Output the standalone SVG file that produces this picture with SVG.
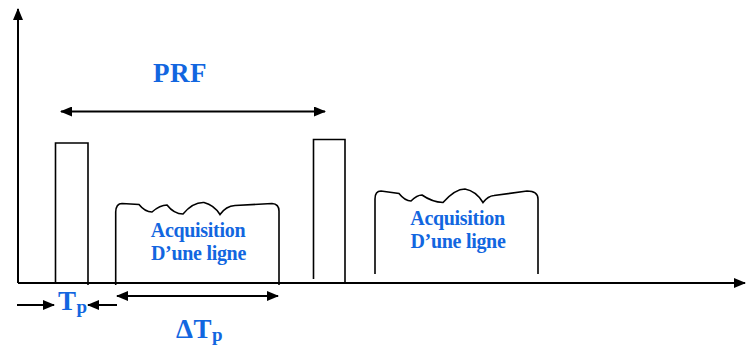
<svg xmlns="http://www.w3.org/2000/svg" width="747" height="349" viewBox="0 0 747 349">
<defs>
<style>
.ln{stroke:#000;stroke-width:1.6;fill:none}
.ax{stroke:#000;stroke-width:2;fill:none}
.ar{stroke:#000;stroke-width:2;fill:none}
.lbl{font-family:'Liberation Serif','DejaVu Serif',serif;font-weight:bold;fill:#1266e0}
.big{font-size:27px;letter-spacing:0.5px}
.acq{font-size:20px;letter-spacing:-0.3px}
.sub{font-size:19px}
</style>
<marker id="ah" viewBox="0 0 12 10" refX="11" refY="5" markerWidth="12" markerHeight="10" markerUnits="userSpaceOnUse" orient="auto-start-reverse">
<path d="M0,0 L12,5 L0,10 z" fill="#000"/>
</marker>
</defs>
<rect width="747" height="349" fill="#fff"/>
<g id="axes">
<line class="ax" x1="18" y1="283" x2="745" y2="283" marker-end="url(#ah)"/>
<line class="ax" x1="18" y1="283" x2="18" y2="9" marker-end="url(#ah)"/>
</g>
<g id="pulse1">
<path class="ln" d="M55.5,283 V143 H88 V285"/>
</g>
<g id="pulse2">
<path class="ln" d="M313.5,279 V139.5 H345 V283"/>
</g>
<g id="acq1">
<path class="ln" d="M115.7,285 V212 Q116,203.5 122,203.5 L139,204.5 Q145,212 152,212 Q160,205 167,205 Q174,214 183,214 Q193,202 204,202.5 Q214,205 220,214.5 Q226,206 235,205.5 L272,203.5 Q279,204 279,211 V285"/>
<text class="lbl acq" x="198" y="236.5" text-anchor="middle">Acquisition</text>
<text class="lbl acq" x="198.5" y="260" text-anchor="middle">D’une ligne</text>
</g>
<g id="acq2">
<path class="ln" d="M375,274 V199 Q375,191 381,191 L399,193.5 Q405,201 411,201 Q417,195 422,195 Q432,202 443,202.5 Q455,189 465,189 Q476,191 483,202.5 Q488,196 494,195.5 L527,191 Q538,191 538,199 V274"/>
<text class="lbl acq" x="457.5" y="225" text-anchor="middle">Acquisition</text>
<text class="lbl acq" x="458" y="248" text-anchor="middle">D’une ligne</text>
</g>
<g id="labels">
<text class="lbl big" x="180" y="82" text-anchor="middle">PRF</text>
<text class="lbl big" x="58" y="310">T<tspan class="sub" dy="3">p</tspan></text>
<text class="lbl big" x="176" y="338">ΔT<tspan class="sub" dy="3">p</tspan></text>
</g>
<g id="connectors">
<line class="ar" x1="61" y1="111.5" x2="325" y2="111.5" marker-start="url(#ah)" marker-end="url(#ah)"/>
<line class="ar" x1="17" y1="305" x2="54" y2="305" marker-end="url(#ah)"/>
<line class="ar" x1="117" y1="305" x2="88" y2="305" marker-end="url(#ah)"/>
<line class="ar" x1="117" y1="296" x2="278" y2="296" marker-start="url(#ah)" marker-end="url(#ah)"/>
</g>
</svg>
